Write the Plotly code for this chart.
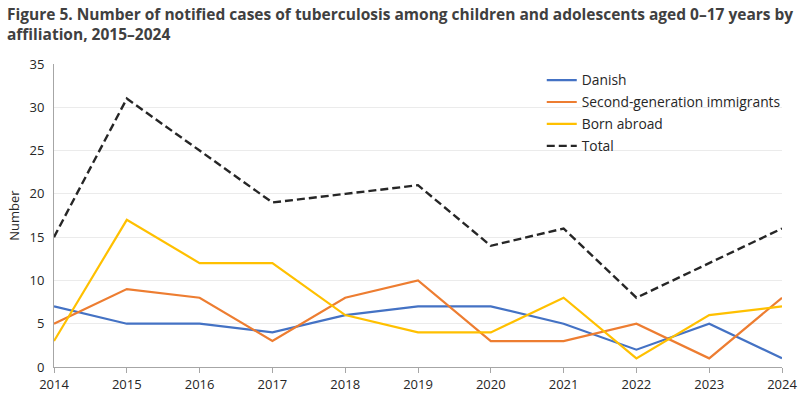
import plotly.graph_objects as go

years = [2014, 2015, 2016, 2017, 2018, 2019, 2020, 2021, 2022, 2023, 2024]
danish = [7, 5, 5, 4, 6, 7, 7, 5, 2, 5, 1]
second_gen = [5, 9, 8, 3, 8, 10, 3, 3, 5, 1, 8]
born_abroad = [3, 17, 12, 12, 6, 4, 4, 8, 1, 6, 7]
total = [15, 31, 25, 19, 20, 21, 14, 16, 8, 12, 16]

font_family = "Open Sans, Lato, sans-serif"

fig = go.Figure()
fig.add_trace(go.Scatter(x=years, y=danish, mode="lines", name="Danish", legendgroup="a",
                         line=dict(color="#4472C4", width=2.2)))
fig.add_trace(go.Scatter(x=years, y=second_gen, mode="lines", name="Second-generation immigrants",
                         legendgroup="b", line=dict(color="#ED7D31", width=2.2)))
fig.add_trace(go.Scatter(x=years, y=born_abroad, mode="lines", name="Born abroad", legendgroup="c",
                         line=dict(color="#FFC000", width=2.2)))
fig.add_trace(go.Scatter(x=years, y=total, mode="lines", name="Total", legendgroup="d",
                         line=dict(color="#262626", width=2.4, dash="8px,4px")))

fig.add_annotation(
    text="<b>Figure 5. Number of notified cases of tuberculosis among children and adolescents aged 0–17 years by<br>affiliation, 2015–2024</b>",
    xref="paper", yref="paper", x=-0.067, y=1.0, yshift=63,
    xanchor="left", yanchor="top", align="left", showarrow=False,
    font=dict(family=font_family, size=15.5, color="#404040"),
)

fig.update_layout(
    width=800, height=397,
    margin=dict(l=54, r=18, t=64, b=30, autoexpand=False),
    paper_bgcolor="white", plot_bgcolor="white",
    font=dict(family=font_family, size=13, color="#262626"),
    showlegend=True,
    legend=dict(x=0.67, y=0.998, xanchor="left", yanchor="top",
                bgcolor="rgba(0,0,0,0)", font=dict(size=13.8, color="#262626"),
                itemwidth=30, tracegroupgap=1),
    xaxis=dict(range=[2014, 2024], tickmode="array", tickvals=years,
               showgrid=False, showline=True, linecolor="#A6A6A6", linewidth=1,
               ticks="outside", ticklen=5, tickcolor="#A6A6A6", automargin=False,
               tickfont=dict(size=13, color="#262626"), zeroline=False),
    yaxis=dict(range=[0, 35], dtick=5, showgrid=True, gridcolor="#EBEBEB",
               showline=True, linecolor="#A6A6A6", linewidth=1, zeroline=False,
               automargin=False, ticklabelstandoff=6,
               tickfont=dict(size=13, color="#262626"),
               title=dict(text="Number", font=dict(size=13, color="#262626"), standoff=6)),
)

fig.write_html("out.html", config={"displayModeBar": False},
               post_script="document.body.style.margin='0';document.body.style.padding='0';")
